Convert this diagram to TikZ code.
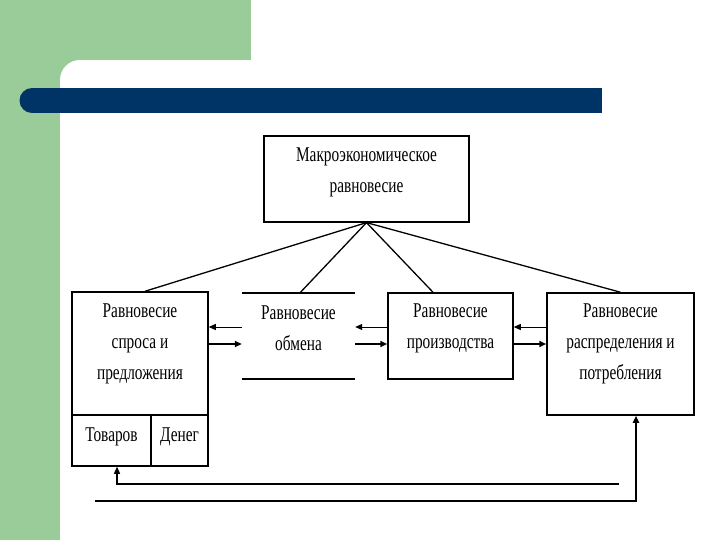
\documentclass[tikz,border=0pt]{standalone}
\usepackage{fontspec}
\setmainfont[FakeStretch=0.73]{Liberation Serif}
\usetikzlibrary{arrows.meta}

\definecolor{slidegreen}{RGB}{153,204,153}
\definecolor{slideblue}{RGB}{0,51,102}

\begin{document}
\begin{tikzpicture}[
		x=1pt, y=-1pt,
		>={Triangle[length=7pt,width=6pt]},
		box/.style={draw, line width=1.5pt, inner sep=0pt},
		txt/.style={align=center, inner sep=0pt, font=\fontsize{21}{31}\selectfont},
		link/.style={line width=1.3pt},
		back/.style={->, line width=1pt},
		fwd/.style={->, line width=2pt}
		]
		
		% --- SLIDE BACKGROUND ---
		\useasboundingbox (0,0) rectangle (720,540);
		\fill[white] (0,0) rectangle (720,540);
		\fill[slidegreen] (0,0) rectangle (251,60);
		\fill[slidegreen] (0,0) rectangle (60,540);
		\fill[slidegreen] (60,60) rectangle (80,80);
		\fill[white] (80,80) circle[radius=20];
		\fill[slideblue] (32,100.5) circle[radius=12.5];
		\fill[slideblue] (32,88) rectangle (602,113);
		
		% --- TOP BOX ---
		\node[box, line width=1.2pt, minimum width=205pt, minimum height=86pt] (macro) at (366.5,179) {};
		\node[txt] (macrotxt) at (366.5,172) {Макроэкономическое\\равновесие};
		
		% --- LOWER ROW ---
		% Demand and supply (with two cells below)
		\node[box, minimum width=136pt, minimum height=123pt] (demand) at (140,353.5) {};
		\node[txt] (demandtxt) at (140,344) {Равновесие\\спроса и\\предложения};
		\node[box, minimum width=79pt, minimum height=51pt] (goods) at (111.5,440.5) {};
		\node[txt] (goodstxt) at (111.5,437) {Товаров};
		\node[box, minimum width=57pt, minimum height=51pt] (money) at (179.5,440.5) {};
		\node[txt] (moneytxt) at (179.5,437) {Денег};
		
		% Exchange (top and bottom lines only)
		\node[inner sep=0pt, minimum width=113pt, minimum height=86pt] (exchange) at (298.5,336) {};
		\draw[box] (exchange.north west) -- (exchange.north east);
		\draw[box] (exchange.south west) -- (exchange.south east);
		\node[txt] (exchangetxt) at (298.5,328) {Равновесие\\обмена};
		
		% Production
		\node[box, minimum width=125pt, minimum height=86pt] (production) at (450.5,336) {};
		\node[txt] (productiontxt) at (450.5,328) {Равновесие\\производства};
		
		% Distribution and consumption
		\node[box, minimum width=147pt, minimum height=122pt] (distribution) at (620.5,354) {};
		\node[txt] (distributiontxt) at (620.5,344) {Равновесие\\распределения и\\потребления};
		
		% --- FAN FROM TOP BOX ---
		\draw[link] (macro.south) -- ([xshift=5pt]demand.north);
		\draw[link] (macro.south) -- ([xshift=1.5pt]exchange.north);
		\draw[link] (macro.south) -- ([xshift=-17.5pt]production.north);
		\draw[link] (macro.south) -- (distribution.north);
		
		% --- ARROWS BETWEEN BOXES ---
		\coordinate (up) at (0,327);
		\coordinate (dn) at (0,344);
		\draw[back] (exchange.west |- up) -- (demand.east |- up);
		\draw[fwd] (demand.east |- dn) -- (exchange.west |- dn);
		\draw[back] (production.west |- up) -- (exchange.east |- up);
		\draw[fwd] (exchange.east |- dn) -- (production.west |- dn);
		\draw[back] (distribution.west |- up) -- (production.east |- up);
		\draw[fwd] (production.east |- dn) -- (distribution.west |- dn);
		
		% --- RETURN LINES ---
		\coordinate (loopA) at (619,484);
		\draw[->, line width=1.2pt] (loopA) -| ([xshift=5.5pt]goods.south);
		\coordinate (loopB) at (95,501);
		\draw[->, line width=2.2pt] (loopB) -| ([xshift=15.5pt]distribution.south);
		
	\end{tikzpicture}
\end{document}
